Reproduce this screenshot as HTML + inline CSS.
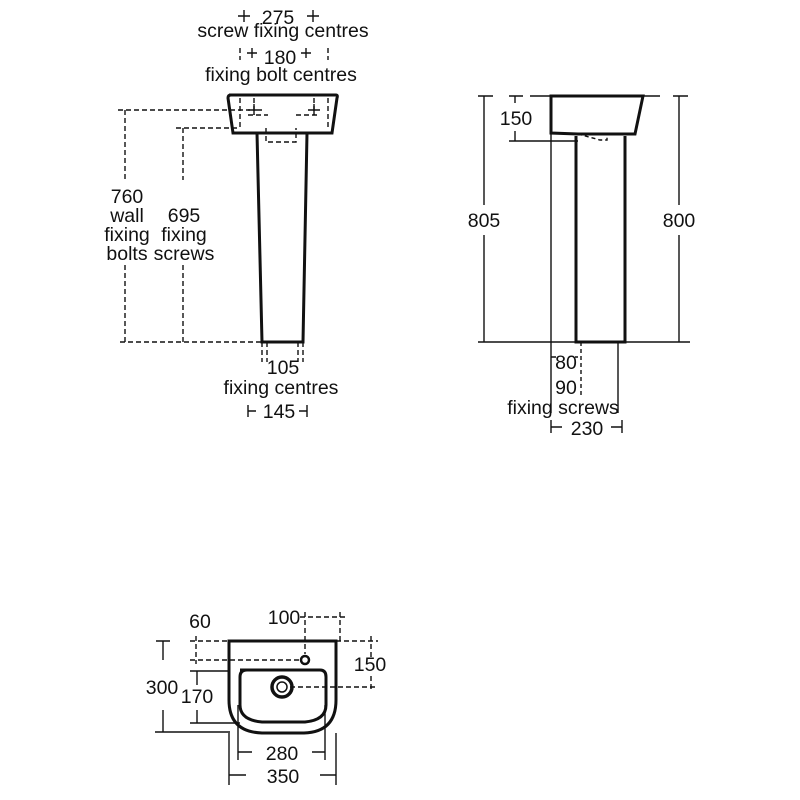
<!DOCTYPE html>
<html><head><style>body{margin:0;background:#fff}svg{display:block}text{font-family:"Liberation Sans",sans-serif;font-size:19.5px;fill:#111;text-anchor:middle}</style></head><body>
<svg width="800" height="800" viewBox="0 0 800 800" xmlns="http://www.w3.org/2000/svg">
<g fill="none" stroke="#111">
<!-- FRONT VIEW -->
<path d="M229,95 L336,95 Q338,95 337,98 L332,133 L233,133 L228,98 Q228,95 231,95Z" stroke-width="3"/>
<path d="M257,133 L262,342 L303,342 L307,133" stroke-width="3"/>
<g stroke-width="1.4" stroke-dasharray="5,3">
<path d="M125,110 V180 M125,265 V342 M118,110 H250 M183,128 V180 M183,265 V342 M176,128 H240 M120,342 H262"/>
<path d="M240,98 V128 M254,98 V115 M314,98 V115 M328,98 V128 M266,128 V142 H296 V128"/>
<path d="M248,115 H268 M296,115 H318"/>
<path d="M262,342 V362 M267,342 V362 M298,342 V362 M303,342 V362"/>
<path d="M240,48 V60 M328,48 V60"/>
</g>
<g stroke-width="1.4">
<path d="M252,48 V58 M247,53 H257 M306,48 V58 M301,53 H311 M244,10 V22 M238,16 H250 M313,10 V22 M307,16 H319"/>
<path d="M254,104 V115 M314,104 V115 M248,110 H262 M308,110 H320"/>
<path d="M248,405 V417 M248,411 H256 M307,405 V417 M299,411 H307"/>
</g>
<!-- SIDE VIEW -->
<path d="M551,96 L643,96 L635,134 L578,134 L551,133 Z" stroke-width="3"/>
<path d="M576,136 L576,342 L625,342 L625,136" stroke-width="3"/>
<path d="M551,133 V413 M618,342 V413" stroke-width="1.4"/>
<g stroke-width="1.4">
<path d="M478,96 H493 M484,96 V205 M484,235 V342 M530,96 H660 M478,342 H690 M673,96 H688 M679,96 V205 M679,235 V342 M509,96 H523 M515,96 V103 M515,131 V141 M509,141 H578"/>
<path d="M551,420 V433 M551,427 H562 M622,420 V433 M611,427 H622 M551,357 H556 M575,357 H578"/>
</g>
<path d="M578,134 L600,140 H607 V134 M581,342 V395" stroke-width="1.4" stroke-dasharray="4,3"/>
<!-- TOP VIEW -->
<path d="M229,641 H336 V700 Q336,732 304,733 H262 Q229,732 229,700 Z" stroke-width="3"/>
<path d="M240,670 H320 Q326,670 326,677 V705 Q326,720 305,722 H262 Q240,720 240,705 V677 Q240,670 247,670 Z" stroke-width="3"/>
<circle cx="282" cy="687" r="10" stroke-width="3.5"/>
<circle cx="282" cy="687" r="5" stroke-width="1.5"/>
<circle cx="305" cy="660" r="4" stroke-width="2.5"/>
<g stroke-width="1.4">
<path d="M163,641 V660 M163,710 V732 M156,641 H170 M155,732 H230 M197,671 V685 M197,710 V723 M190,671 H230 M190,723 H240"/>
<path d="M229,733 V785 M336,733 V785 M238,705 V760 M325,705 V760 M229,778 V772 M229,775 H246 M320,775 H336 M336,772 V778 M238,746 V758 M238,752 H252 M312,752 H325 M325,746 V758"/>
</g>
<g stroke-width="1.4" stroke-dasharray="5,3">
<path d="M190,641 H229 M190,660 H300 M196,636 V664 M305,612 V654 M340,612 V641 M300,617 H345 M336,641 H378 M290,687 H378 M371,636 V658 M371,676 V692"/>
</g>
</g>
<text x="278" y="24">275</text>
<text x="283" y="37">screw fixing centres</text>
<text x="280" y="64">180</text>
<text x="281" y="81">fixing bolt centres</text>
<text x="127" y="203">760</text>
<text x="127" y="222">wall</text>
<text x="127" y="241">fixing</text>
<text x="127" y="260">bolts</text>
<text x="184" y="222">695</text>
<text x="184" y="241">fixing</text>
<text x="184" y="260">screws</text>
<text x="283" y="374">105</text>
<text x="281" y="394">fixing centres</text>
<text x="279" y="418">145</text>
<text x="484" y="227">805</text>
<text x="679" y="227">800</text>
<text x="516" y="125">150</text>
<text x="566" y="369">80</text>
<text x="566" y="394">90</text>
<text x="563" y="414">fixing screws</text>
<text x="587" y="435">230</text>
<text x="200" y="628">60</text>
<text x="284" y="624">100</text>
<text x="370" y="671">150</text>
<text x="162" y="694">300</text>
<text x="197" y="703">170</text>
<text x="282" y="760">280</text>
<text x="283" y="783">350</text>
</svg>
</body></html>
